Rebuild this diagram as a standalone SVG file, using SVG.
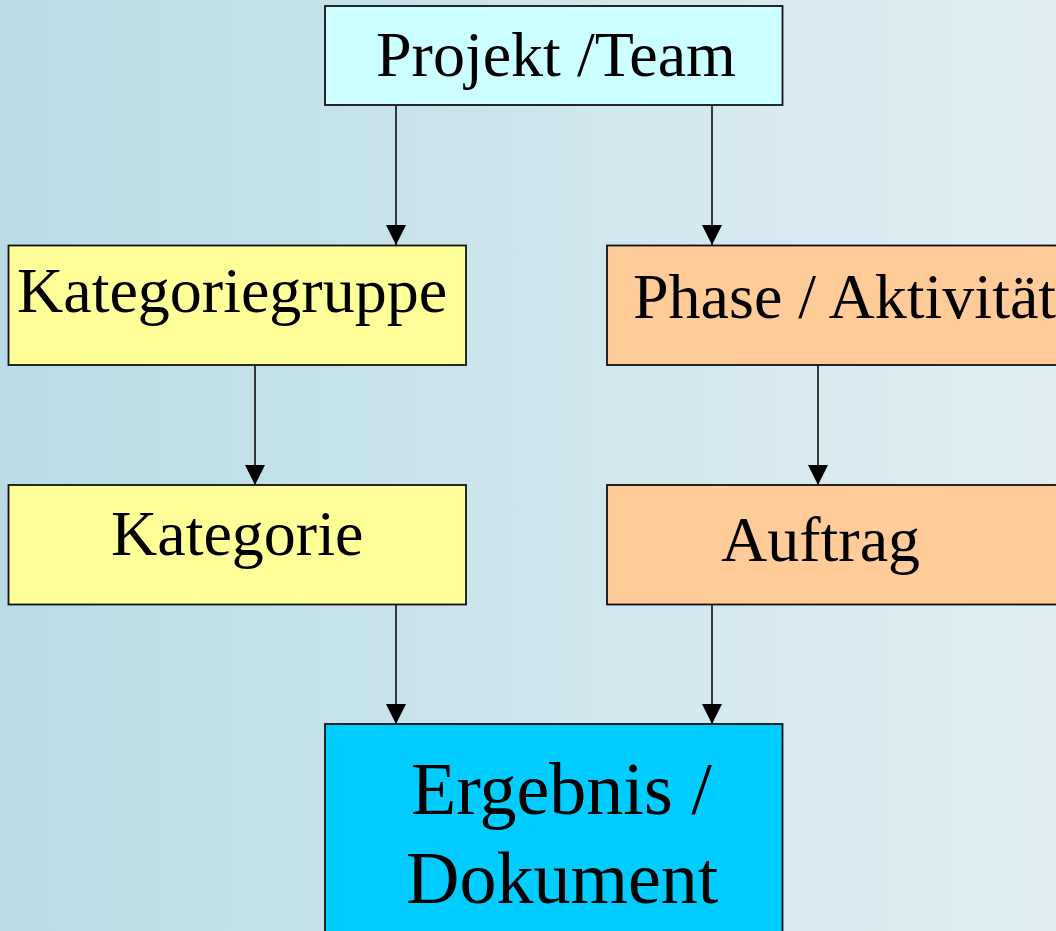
<svg xmlns="http://www.w3.org/2000/svg" width="1056" height="931" viewBox="0 0 1056 931">
<defs>
<linearGradient id="bg" x1="0" y1="0" x2="1" y2="0">
<stop offset="0" stop-color="#b9dce6"/>
<stop offset="1" stop-color="#e1eff3"/>
</linearGradient>
<marker id="arr" markerWidth="20" markerHeight="20" refX="20" refY="10" orient="auto" markerUnits="userSpaceOnUse">
<path d="M0,0 L20,10 L0,20 Z" fill="#000"/>
</marker>
<style>
.box{stroke:#111;stroke-width:1.8}
.t{font-family:"Liberation Serif","Times New Roman",serif;font-size:64px;fill:#000}
.big{font-size:74px}
.c{stroke:#000;stroke-width:1.5;fill:none;marker-end:url(#arr)}
</style>
</defs>
<rect x="0" y="0" width="1056" height="931" fill="url(#bg)"/>
<g id="connectors">
<line class="c" x1="396" y1="105" x2="396" y2="245"/>
<line class="c" x1="712" y1="105" x2="712" y2="245"/>
<line class="c" x1="255" y1="365" x2="255" y2="485"/>
<line class="c" x1="818" y1="365" x2="818" y2="485"/>
<line class="c" x1="396" y1="604" x2="396" y2="724"/>
<line class="c" x1="712" y1="604" x2="712" y2="724"/>
</g>
<g id="projekt">
<rect class="box" x="325" y="6" width="457.5" height="99" fill="#ccffff"/>
<text class="t" x="376" y="76">Projekt /Team</text>
</g>
<g id="kategoriegruppe">
<rect class="box" x="8.5" y="245.5" width="457.5" height="119.5" fill="#ffff99"/>
<text class="t" x="17" y="312">Kategoriegruppe</text>
</g>
<g id="phase">
<rect class="box" x="607" y="245.5" width="460" height="119.5" fill="#ffcc99"/>
<text class="t" x="633" y="318">Phase / Aktivität</text>
</g>
<g id="kategorie">
<rect class="box" x="8.5" y="485" width="457.5" height="119.5" fill="#ffff99"/>
<text class="t" x="111" y="555">Kategorie</text>
</g>
<g id="auftrag">
<rect class="box" x="607" y="485" width="460" height="119.5" fill="#ffcc99"/>
<text class="t" x="721" y="561">Auftrag</text>
</g>
<g id="ergebnis">
<rect class="box" x="325" y="724" width="457.5" height="220" fill="#00ccff"/>
<text class="t big" x="411" y="814">Ergebnis /</text>
<text class="t big" x="406" y="903">Dokument</text>
</g>
</svg>
